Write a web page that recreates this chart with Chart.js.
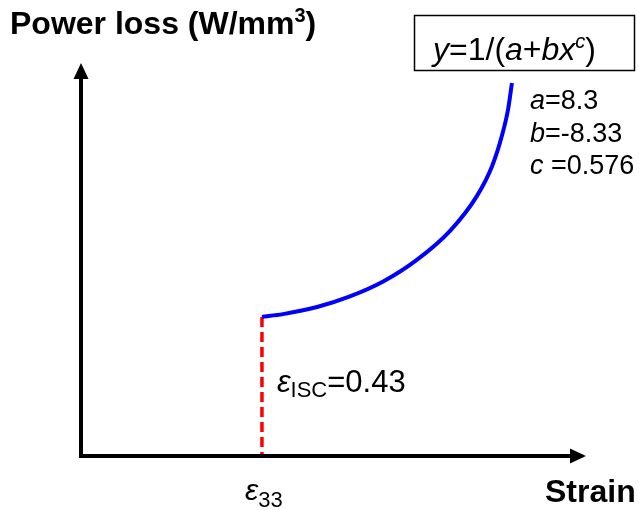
<!DOCTYPE html>
<html>
<head>
<meta charset="utf-8">
<script src="https://cdn.jsdelivr.net/npm/chart.js@4"></script>
<style>
  body { margin: 0; background: #fff; }
  canvas { display: block; }
</style>
</head>
<body>
<canvas id="lossChart" width="639" height="510"></canvas>
<script>
// values (strain, power loss in arbitrary units)
var curveStrain = [0.43, 0.48, 0.561, 0.639, 0.718, 0.798, 0.877, 0.941, 0.977, 1.0, 1.015, 1.024]
var curveLoss = [0.354, 0.361, 0.379, 0.406, 0.444, 0.499, 0.573, 0.662, 0.738, 0.814, 0.883, 0.949]
var isc = 0.43
var iscLoss = [0.354, 0]
var strainRange = [0, 1.2]
var lossRange = [0, 1]

var FAM = '"Liberation Sans", Arial, sans-serif'

function toPoints(xs, ys) {
    let pts = []
    for (var i = 0; i < xs.length; i++) {
        pts.push({x: xs[i], y: ys[i]})
    }
    return pts
}

// draw a line of text made of several runs (italic, sub/superscripts)
function drawRuns(ctx, x, y, runs) {
    for (var r of runs) {
        ctx.font = r[1] + ' ' + FAM
        ctx.fillText(r[0], x, y + (r[2] || 0))
        x += ctx.measureText(r[0]).width
    }
}

var axesPlugin = {
    id: 'axesArrows',
    afterDatasetsDraw(chart) {
        let ctx = chart.ctx
        let xs = chart.scales.x
        let ys = chart.scales.y
        let x0 = xs.getPixelForValue(strainRange[0])
        let y0 = ys.getPixelForValue(lossRange[0])
        let xEnd = xs.getPixelForValue(strainRange[1])
        let yEnd = ys.getPixelForValue(lossRange[1])
        ctx.save()
        ctx.strokeStyle = '#000'
        ctx.fillStyle = '#000'
        ctx.lineWidth = 4
        ctx.beginPath()
        ctx.moveTo(x0 - 2, y0)
        ctx.lineTo(xEnd - 12, y0)
        ctx.moveTo(x0, y0 + 2)
        ctx.lineTo(x0, yEnd + 12)
        ctx.stroke()
        // arrow heads
        ctx.beginPath()
        ctx.moveTo(xEnd, y0)
        ctx.lineTo(xEnd - 16, y0 - 7.5)
        ctx.lineTo(xEnd - 16, y0 + 7.5)
        ctx.closePath()
        ctx.fill()
        ctx.beginPath()
        ctx.moveTo(x0, yEnd)
        ctx.lineTo(x0 - 7.5, yEnd + 16)
        ctx.lineTo(x0 + 7.5, yEnd + 16)
        ctx.closePath()
        ctx.fill()

        // labels
        ctx.textBaseline = 'alphabetic'
        drawRuns(ctx, 10, 34, [['Power loss (W/mm', 'bold 32px'], ['3', 'bold 20px', -12], [')', 'bold 32px']])
        drawRuns(ctx, 545, 502, [['Strain', 'bold 32px']])

        let xi = xs.getPixelForValue(isc)
        drawRuns(ctx, xi - 17, 500, [['\u03b5', 'italic 30px'], ['33', '22px', 7]])
        drawRuns(ctx, xi + 15, 392, [['\u03b5', 'italic 31px'], ['ISC', '22px', 5], ['=0.43', '31px']])

        // formula box
        ctx.lineWidth = 1.5
        ctx.strokeRect(414.5, 15.5, 220, 55)
        drawRuns(ctx, 433, 60, [['y', 'italic 32px'], ['=1/(', '32px'], ['a', 'italic 32px'], ['+', '32px'],
            ['b', 'italic 32px'], ['x', 'italic 32px'], ['c', 'italic 20px', -12], [')', '32px']])
        drawRuns(ctx, 530, 109, [['a', 'italic 27px'], ['=8.3', '27px']])
        drawRuns(ctx, 530, 141.5, [['b', 'italic 27px'], ['=-8.33', '27px']])
        drawRuns(ctx, 530, 173.5, [['c', 'italic 27px'], [' =0.576', '27px']])
        ctx.restore()
    }
}

var ctx = document.getElementById('lossChart')
var lossChart = new Chart(ctx, {
    type: 'line',
    data: {
        datasets: [{
            data: toPoints(curveStrain, curveLoss),
            borderColor: '#0000ff',
            borderWidth: 4,
            pointRadius: 0,
            cubicInterpolationMode: 'monotone',
            fill: false
        }, {
            data: toPoints([isc, isc], iscLoss),
            borderColor: '#ff0000',
            borderWidth: 3.5,
            borderDash: [10, 5],
            pointRadius: 0,
            fill: false
        }]
    },
    options: {
        responsive: false,
        animation: false,
        devicePixelRatio: 1,
        layout: { padding: { left: 81, right: 53, top: 63, bottom: 54 } },
        scales: {
            x: { type: 'linear', min: strainRange[0], max: strainRange[1], display: false },
            y: { type: 'linear', min: lossRange[0], max: lossRange[1], display: false }
        },
        plugins: {
            legend: { display: false },
            tooltip: { enabled: false }
        }
    },
    plugins: [axesPlugin]
});
</script>
</body>
</html>
